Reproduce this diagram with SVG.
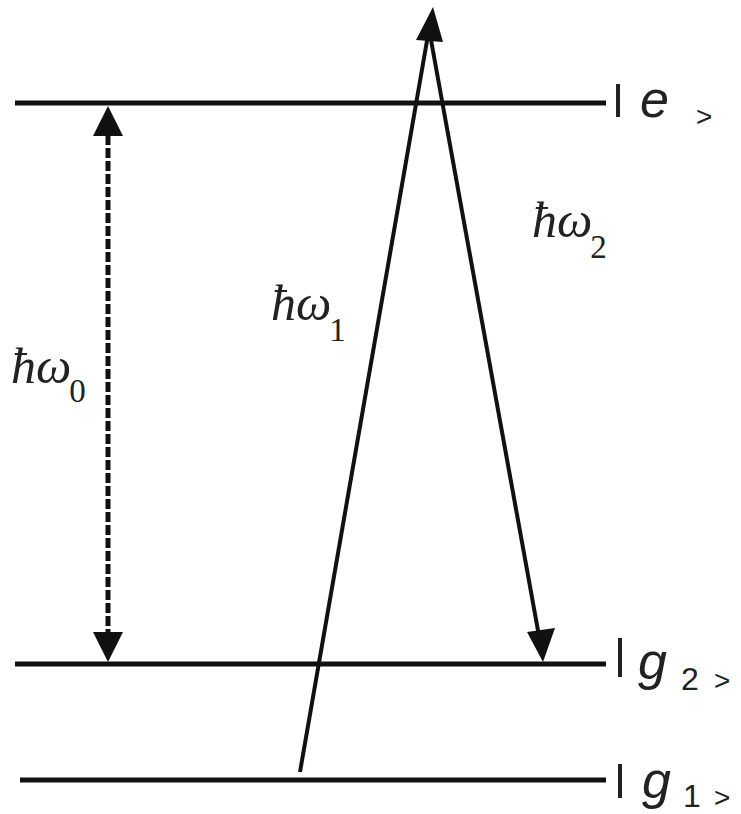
<svg xmlns="http://www.w3.org/2000/svg" width="741" height="814" viewBox="0 0 741 814">
<style>
.lvl{stroke:#111;stroke-width:5;fill:none}
.arr{stroke:#111;stroke-width:4;fill:none}
.dash{stroke:#111;stroke-width:5;stroke-dasharray:10 3;fill:none}
.head{fill:#111}
.bar{stroke:#222;stroke-width:4}
.lab{font-family:"Liberation Serif",serif;font-style:italic;font-size:50px;fill:#222}
.sub{font-family:"Liberation Serif",serif;font-style:normal;font-size:33px;fill:#222}
.ket{font-family:"Liberation Sans",sans-serif;font-style:italic;font-size:52px;fill:#222}
.num{font-family:"Liberation Sans",sans-serif;font-size:32px;fill:#222}
.gt{font-family:"Liberation Sans",sans-serif;font-size:28px;fill:#222}
</style>
<rect width="741" height="814" fill="#fff"/>
<g id="level-e">
<line class="lvl" x1="15" y1="103" x2="606" y2="103"/>
<line class="bar" x1="618" y1="84" x2="618" y2="117"/>
<text class="ket" x="640" y="117">e</text>
<text class="gt" x="696" y="126">&gt;</text>
</g>
<g id="level-g2">
<line class="lvl" x1="15" y1="664" x2="606" y2="664"/>
<line class="bar" x1="620" y1="638" x2="620" y2="677"/>
<text class="ket" x="638" y="679">g</text>
<text class="num" x="681" y="690">2</text>
<text class="gt" x="714" y="690">&gt;</text>
</g>
<g id="level-g1">
<line class="lvl" x1="20" y1="780" x2="606" y2="780"/>
<line class="bar" x1="620" y1="764" x2="620" y2="798"/>
<text class="ket" x="642" y="798">g</text>
<text class="num" x="683" y="807">1</text>
<text class="gt" x="714" y="807">&gt;</text>
</g>
<g id="connectors">
<line class="dash" x1="108" y1="135" x2="108" y2="634"/>
<polygon class="head" points="108,106 93,136 123,136"/>
<polygon class="head" points="108,662 93,632 123,632"/>
<line class="arr" x1="300" y1="772" x2="428" y2="35"/>
<polygon class="head" points="433,7 416,40 443,42"/>
<line class="arr" x1="431" y1="40" x2="539" y2="636"/>
<polygon class="head" points="543,662 527,632 555,628"/>
</g>
<g id="label-w0">
<text class="lab" x="11" y="383">ħω<tspan class="sub" dx="-2" dy="19">0</tspan></text>
</g>
<g id="label-w1">
<text class="lab" x="271" y="320">ħω<tspan class="sub" dx="-2" dy="21">1</tspan></text>
</g>
<g id="label-w2">
<text class="lab" x="532" y="237">ħω<tspan class="sub" dx="-2" dy="21">2</tspan></text>
</g>
</svg>
